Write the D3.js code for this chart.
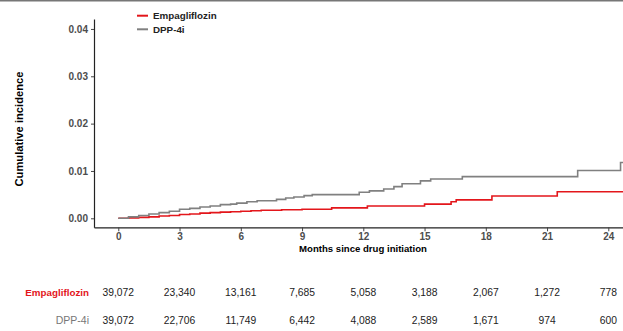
<!DOCTYPE html>
<html lang="en">
<head>
<meta charset="UTF-8">
<title>Cumulative incidence</title>
<script src="https://cdn.jsdelivr.net/npm/d3@7"></script>
<style>
  body { margin: 0; background: #fff; }
  svg { display: block; font-family: "Liberation Sans", Arial, sans-serif; }
</style>
</head>
<body>
<script>
// data
const groups = ["Empagliflozin", "DPP-4i"];
const groupColors = ["#e3161b", "#808080"];

const empaMonths = [0, 0.5, 1, 1.5, 2, 2.5, 3, 3.5, 4, 4.5, 5, 5.5, 6, 6.5, 7, 7.5, 8, 8.5, 9, 10.45, 12.2, 15, 16.3, 16.55, 18.3, 21.5, 24.8];
const empaCum    = [0, 0.0001, 0.0002, 0.0003, 0.0005, 0.0006, 0.0008, 0.0009, 0.0011, 0.0012, 0.0013, 0.0014, 0.0015, 0.0016, 0.0017, 0.0017, 0.0018, 0.0018, 0.0019, 0.0022, 0.0026, 0.0030, 0.0035, 0.0039, 0.0047, 0.0056, 0.0056];

const dppMonths = [0, 0.5, 1, 1.5, 2, 2.5, 3, 3.5, 4, 4.5, 5, 5.5, 5.8, 6.3, 6.8, 7.75, 8.2, 8.6, 9.1, 9.5, 11.8, 12.3, 13.0, 13.5, 13.9, 14.8, 15.3, 16.85, 22.5, 24.6, 24.8];
const dppCum    = [0, 0.0003, 0.0006, 0.0009, 0.0012, 0.0015, 0.0019, 0.0021, 0.0024, 0.0026, 0.0029, 0.0030, 0.0032, 0.0035, 0.0037, 0.0040, 0.0043, 0.0045, 0.0048, 0.0050, 0.0055, 0.0058, 0.0062, 0.0067, 0.0073, 0.0079, 0.0083, 0.0088, 0.0101, 0.0118, 0.0118];

const xTicks = [0, 3, 6, 9, 12, 15, 18, 21, 24];
const yTicks = [0, 0.01, 0.02, 0.03, 0.04];

const empaAtRisk = [39072, 23340, 13161, 7685, 5058, 3188, 2067, 1272, 778];
const dppAtRisk  = [39072, 22706, 11749, 6442, 4088, 2589, 1671, 974, 600];

const width = 623, height = 331;

const svg = d3.select("body").append("svg")
    .attr("width", width).attr("height", height);

// grey rule along the top edge
svg.append("line").attr("x1", 0).attr("x2", width).attr("y1", 0.5).attr("y2", 0.5)
    .attr("stroke", "#777").attr("stroke-width", 2);

const x = d3.scaleLinear().domain([-1.19, 24.72]).range([94, 623]);
const y = d3.scaleLinear().domain([-0.0019, 0.0421]).range([227.3, 19]);

// axes
const xAxis = svg.append("g").attr("transform", "translate(0,227.3)")
    .call(d3.axisBottom(x).tickValues(xTicks).tickSize(4).tickPadding(1.5).tickSizeOuter(0).tickFormat(d3.format("d")));
const yAxis = svg.append("g").attr("transform", "translate(94,0)")
    .call(d3.axisLeft(y).tickValues(yTicks).tickSize(3).tickSizeOuter(0).tickFormat(d3.format(".2f")));

[xAxis, yAxis].forEach(a => {
    a.select(".domain").attr("stroke", "#222").attr("stroke-width", 1.2);
    a.selectAll(".tick line").attr("stroke", "#444");
    a.selectAll(".tick text").attr("fill", "#4d4d4d").attr("font-size", 10)
        .attr("font-weight", "bold").attr("font-family", "Liberation Sans, Arial, sans-serif");
});

// axis titles
svg.append("text").attr("x", 363).attr("y", 252)
    .attr("text-anchor", "middle").attr("font-size", 9.6).attr("font-weight", "bold")
    .text("Months since drug initiation");
svg.append("text").attr("transform", "translate(23,129) rotate(-90)")
    .attr("text-anchor", "middle").attr("font-size", 11.2).attr("font-weight", "bold")
    .text("Cumulative incidence");

// step curves
const line = d3.line().curve(d3.curveStepAfter).x(d => x(d[0])).y(d => y(d[1]));
const series = [
    d3.zip(empaMonths, empaCum),
    d3.zip(dppMonths, dppCum)
];
svg.append("defs").append("clipPath").attr("id", "clip")
  .append("rect").attr("x", 94).attr("y", 0).attr("width", width - 94).attr("height", 227);
svg.append("g").attr("clip-path", "url(#clip)")
  .selectAll("path").data(series).join("path")
    .attr("d", line)
    .attr("fill", "none")
    .attr("stroke", (d, i) => groupColors[i])
    .attr("stroke-width", 1.6);

// legend
const legend = svg.append("g").selectAll("g").data(groups).join("g")
    .attr("transform", (d, i) => `translate(137,${15.7 + i * 13.6})`);
legend.append("line").attr("x1", 0).attr("x2", 11)
    .attr("stroke", (d, i) => groupColors[i]).attr("stroke-width", 2);
legend.append("text").attr("x", 16).attr("dy", "0.35em")
    .attr("font-size", 9.8).attr("font-weight", "bold").attr("fill", "#222")
    .text(d => d);

// numbers at risk
const riskRows = [empaAtRisk, dppAtRisk];
const rowY = [292.3, 320];
const fmt = d3.format(",");
riskRows.forEach((row, r) => {
    svg.append("text").attr("x", 89).attr("y", rowY[r]).attr("dy", "0.35em")
        .attr("text-anchor", "end").attr("font-size", r === 0 ? 9.8 : 10.5)
        .attr("font-weight", r === 0 ? "bold" : "normal")
        .attr("fill", r === 0 ? groupColors[0] : "#777")
        .text(groups[r]);
    svg.append("g").selectAll("text").data(row).join("text")
        .attr("x", (d, i) => x(xTicks[i]))
        .attr("y", rowY[r]).attr("dy", "0.35em")
        .attr("text-anchor", "middle").attr("font-size", 10.3).attr("fill", "#222")
        .text(d => fmt(d));
});
</script>
</body>
</html>
